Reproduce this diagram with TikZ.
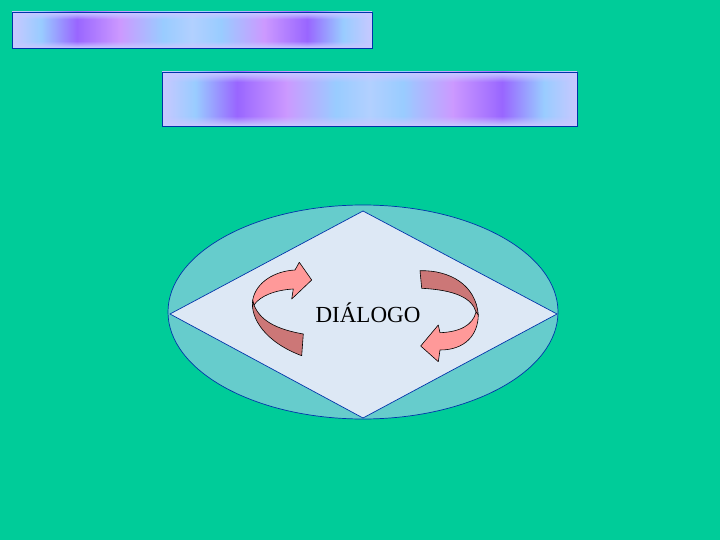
\documentclass[tikz,border=0pt]{standalone}
\usepackage{fontspec}
\setmainfont{Liberation Serif}
\usepackage{xcolor}
\usetikzlibrary{fadings}

\definecolor{fondo}{RGB}{0,204,153}
\definecolor{elipse}{RGB}{102,204,204}
\definecolor{rombo}{RGB}{221,232,245}
\definecolor{borde}{RGB}{0,51,170}
\definecolor{lavanda}{RGB}{200,200,255}
\definecolor{celeste}{RGB}{153,204,255}
\definecolor{centro}{RGB}{178,208,255}
\definecolor{morado}{RGB}{153,102,255}
\definecolor{lila}{RGB}{204,153,255}
\definecolor{claro}{RGB}{255,153,153}
\definecolor{oscuro}{RGB}{204,119,119}

\pgfdeclarehorizontalshading{barra}{100bp}{color(0bp)=(lavanda); color(25bp)=(lavanda); color(29bp)=(celeste); color(34bp)=(morado); color(40bp)=(lila); color(46bp)=(celeste); color(50bp)=(centro); color(54bp)=(celeste); color(60bp)=(lila); color(66bp)=(morado); color(71bp)=(celeste); color(75bp)=(lavanda); color(100bp)=(lavanda)}
\tikzfading[name=fade abajo, top color=transparent!0, bottom color=transparent!100]
\tikzfading[name=fade arriba, top color=transparent!100, bottom color=transparent!0]

\tikzset{
	cinta clara/.style={fill=claro, draw=black, line width=0.6pt, line join=round},
	cinta oscura/.style={fill=oscuro, draw=black, line width=0.6pt, line join=round},
	barra/.style={shading=barra, draw=borde, line width=0.8pt}
}

\begin{document}
\begin{tikzpicture}[x=1pt, y=-1pt]
			\fill[color=fondo] (0,0) rectangle (720,540);
			% barras de arriba
			\shade[barra] (12,12) rectangle (372,48);
			\fill[color=lavanda, path fading=fade abajo] (12.4,12.4) rectangle (371.6,19);
			\fill[color=lavanda, path fading=fade arriba] (12.4,41) rectangle (371.6,47.6);
			\draw[color=borde, line width=0.8pt] (12,12) rectangle (372,48);
			\shade[barra] (162,72) rectangle (577,126);
			\fill[color=lavanda, path fading=fade abajo] (162.4,72.4) rectangle (576.6,82);
			\fill[color=lavanda, path fading=fade arriba] (162.4,116) rectangle (576.6,125.6);
			\draw[color=borde, line width=0.8pt] (162,72) rectangle (577,126);
			% elipse y rombo
			\filldraw[fill=elipse, draw=borde, line width=0.7pt] (363,312) ellipse [x radius=195, y radius=107];
			\filldraw[fill=rombo, draw=borde, line width=0.7pt] (363,211) -- (557,314) -- (363,418) -- (170,314) -- cycle;
			\node[font=\fontsize{23}{27}\selectfont, inner sep=0pt] (dialogo) at (368,313) {DIÁLOGO};
			% flecha izquierda
			\filldraw[cinta oscura] (252.7,300) .. controls (250,318) and (265,342) .. (301.7,355.7) -- (303.3,334) .. controls (275,329) and (260,320) .. (254,305) -- cycle;
			\filldraw[cinta clara] (252.7,300) .. controls (256,282) and (275,271) .. (295,270) -- (299.3,262.3) -- (311.7,280) -- (291.7,299) -- (293.3,289) .. controls (275,290) and (260,296) .. (254,305) -- cycle;
			% flecha derecha
			\filldraw[cinta oscura] (420,270.7) .. controls (450,270) and (476,285) .. (478.3,315) -- (476,312) .. controls (472,298) and (455,290) .. (421.7,288.3) -- cycle;
			\filldraw[cinta clara] (478.3,315) .. controls (478,335) and (465,350) .. (440,350) -- (438.3,361.7) -- (420.7,346) -- (438.3,325) -- (440,332.7) .. controls (460,332) and (473,325) .. (476,312) -- cycle;
		\end{tikzpicture}
\end{document}
